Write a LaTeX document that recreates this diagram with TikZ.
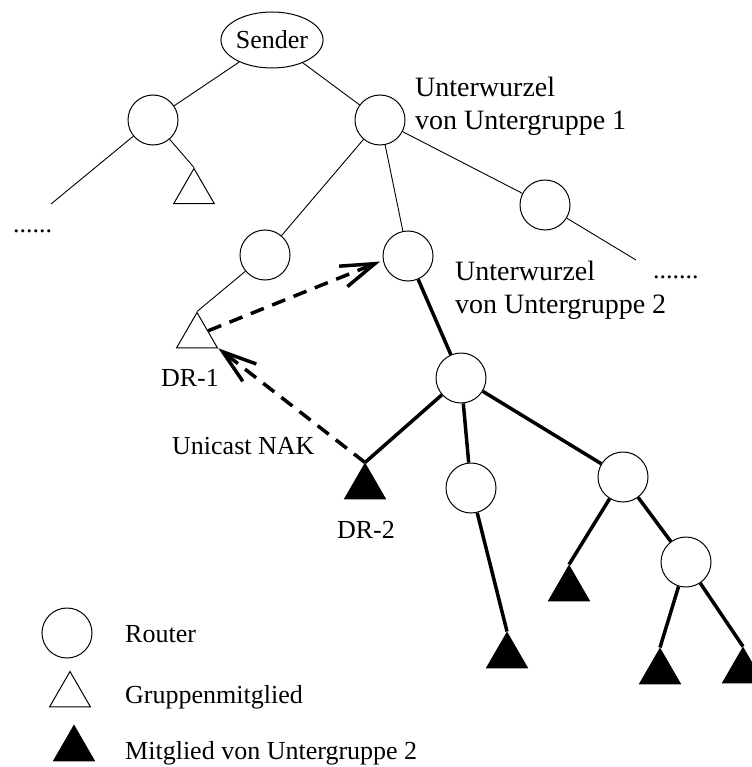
\documentclass[tikz,border=0pt]{standalone}
\usepackage{fontspec}
\setmainfont{Liberation Serif}
\usetikzlibrary{calc,arrows.meta,positioning,shapes.geometric}

\begin{document}
\begin{tikzpicture}[x=1pt,y=-1pt,
        router/.style={circle,draw,line width=1pt,minimum size=50pt,inner sep=0pt},
        memb/.style={regular polygon,regular polygon sides=3,draw,line width=1pt,minimum size=47pt,inner sep=0pt},
        submemb/.style={memb,fill=black},
        tree/.style={line width=0.9pt},
        subtree/.style={line width=3.5pt},
        nak/.style={line width=3.5pt,dash pattern=on 14pt off 9pt,-{Straight Barb[length=34pt,width=22pt]}},
        lbl/.style={font=\fontsize{26}{30}\selectfont,inner sep=0pt},
        biglbl/.style={font=\fontsize{28}{33}\selectfont,inner sep=0pt,align=left}]
        \useasboundingbox (0,0) rectangle (751,767);
        
        % routers
        \node[ellipse,draw,line width=1pt,minimum width=101pt,minimum height=56pt,inner sep=0pt,lbl] (sender) at (272,40) {Sender};
        \node[router] (r1) at (153,120) {};
        \node[router] (r2) at (380,120) {};
        \node[router] (r3) at (265,255) {};
        \node[router] (r4) at (408,256) {};
        \node[router] (r5) at (545,205) {};
        \node[router] (r6) at (461,378) {};
        \node[router] (r7) at (471,488) {};
        \node[router] (r8) at (623,477) {};
        \node[router] (r9) at (686,562) {};
        
        % members
        \node[memb] (m1) at (194,192) {};
        \node[memb] (dr1) at (197,336) {};
        \node[submemb] (dr2) at (365,487) {};
        \node[submemb] (l7) at (507,656) {};
        \node[submemb] (l8) at (569,589) {};
        \node[submemb] (l9a) at (660,672) {};
        \node[submemb] (l9b) at (743,671) {};
        
        \coordinate (lend) at (51,204);
        \coordinate (rend) at (636,260);
        
        \draw[tree] (sender) -- (r1);
        \draw[tree] (sender) -- (r2);
        \draw[tree] (r1) -- (lend);
        \draw[tree] (r1) -- (m1.corner 1);
        \draw[tree] (r2) -- (r3);
        \draw[tree] (r2) -- (r4);
        \draw[tree] (r2) -- (r5);
        \draw[tree] (r5) -- (rend);
        \draw[tree] (r3) -- (dr1.corner 1);
        
        % untergruppe 2
        \draw[subtree] (r4) -- (r6);
        \draw[subtree] (r6) -- (dr2.corner 1);
        \draw[subtree] (r6) -- (r7);
        \draw[subtree] (r6) -- (r8);
        \draw[subtree] (r7) -- (l7.corner 1);
        \draw[subtree] (r8) -- (l8.corner 1);
        \draw[subtree] (r8) -- (r9);
        \draw[subtree] (r9) -- (l9a.corner 1);
        \draw[subtree] (r9) -- (l9b.corner 1);
        
        \draw[nak,shorten >=3pt] (dr1.25) -- (r4.190);
        \draw[nak] (dr2.corner 1) -- (dr1.corner 3);
        
        % texts
        \node[lbl,anchor=base west] (ldots) at (13,232) {......};
        \node[lbl,anchor=base west] (rdots) at (653,278) {.......};
        \node[biglbl,anchor=base west] (sub1) at (415,130) {Unterwurzel\\von Untergruppe 1};
        \node[biglbl,anchor=base west] (sub2) at (455,313) {Unterwurzel\\von Untergruppe 2};
        \node[lbl,anchor=base] (dr1l) at (190,386) {DR-1};
        \node[lbl,anchor=base] (dr2l) at (366,538) {DR-2};
        \node[lbl,anchor=base west] (nakl) at (172,454) {Unicast NAK};
        
        % legend
        \node[router] (legr) at (67,633) {};
        \node[memb] (legm) at (70,695) {};
        \node[submemb] (legs) at (74,749) {};
        \node[lbl,anchor=base west] (legrt) at (125,642) {Router};
        \node[lbl,anchor=base west] (legmt) at (125,703) {Gruppenmitglied};
        \node[lbl,anchor=base west] (legst) at (125,759) {Mitglied von Untergruppe 2};
        
\end{tikzpicture}
\end{document}
